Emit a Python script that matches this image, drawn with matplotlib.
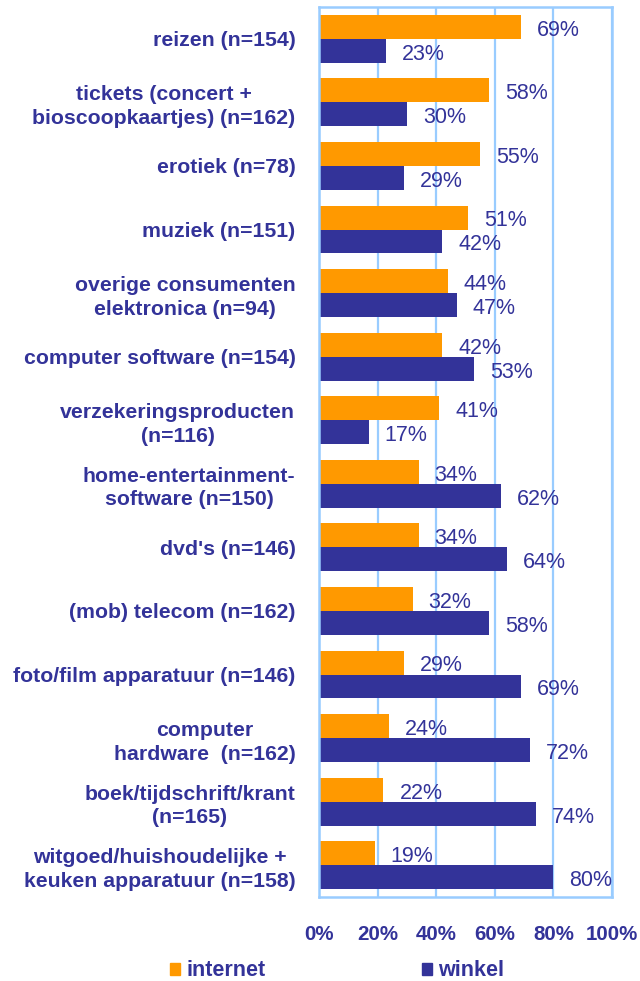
import matplotlib
matplotlib.use("Agg")
import matplotlib.pyplot as plt
from matplotlib.patches import Patch
import numpy as np

categories = [
    "reizen (n=154)",
    "tickets (concert +\nbioscoopkaartjes) (n=162)",
    "erotiek (n=78)",
    "muziek (n=151)",
    "overige consumenten\nelektronica (n=94)",
    "computer software (n=154)",
    "verzekeringsproducten\n(n=116)",
    "home-entertainment-\nsoftware (n=150)",
    "dvd's (n=146)",
    "(mob) telecom (n=162)",
    "foto/film apparatuur (n=146)",
    "computer\nhardware  (n=162)",
    "boek/tijdschrift/krant\n(n=165)",
    "witgoed/huishoudelijke +\nkeuken apparatuur (n=158)",
]
internet = [69, 58, 55, 51, 44, 42, 41, 34, 34, 32, 29, 24, 22, 19]
winkel = [23, 30, 29, 42, 47, 53, 17, 62, 64, 58, 69, 72, 74, 80]
xticks = [0, 20, 40, 60, 80, 100]
xticklabels = ["0%", "20%", "40%", "60%", "80%", "100%"]
series_names = ["internet", "winkel"]

ORANGE = "#FF9900"
BLUE = "#333399"
GRID = "#99CCFF"

plt.rcParams["font.family"] = ["Liberation Sans", "DejaVu Sans"]

fig = plt.figure(figsize=(6.4, 9.81), dpi=100)
ax = fig.add_axes([319 / 640, 1 - 897 / 981, (612 - 319) / 640, (897 - 7) / 981])

n = len(categories)
y = np.arange(n)
h = 0.377
ax.barh(y - h / 2, internet, height=h, color=ORANGE, zorder=3)
ax.barh(y + h / 2, winkel, height=h, color=BLUE, zorder=3)

for vals, off in [(internet, -h / 2), (winkel, h / 2)]:
    for yi, v in zip(y, vals):
        ax.annotate(f"{v}%", xy=(v, yi + off), xytext=(11.5, -2.5),
                    textcoords="offset points", ha="left", va="center",
                    color=BLUE, fontsize=15.5, zorder=5)

ax.set_xlim(0, 100)
ax.set_ylim(n - 0.5, -0.5)
ax.set_xticks(xticks)
ax.set_xticklabels(xticklabels, fontsize=14.8, fontweight="bold", color=BLUE)
ax.set_yticks(y)
ax.set_yticklabels(categories, fontsize=15.3, fontweight="bold", color=BLUE,
                   multialignment="center", linespacing=1.3)
ax.tick_params(axis="both", length=0)
ax.tick_params(axis="x", pad=20)
ax.tick_params(axis="y", pad=17)

ax.grid(axis="x", color=GRID, linewidth=1.6, zorder=0)
for s in ax.spines.values():
    s.set_color(GRID)
    s.set_linewidth(1.8)
    s.set_zorder(4)

for name, col, xa in [(series_names[0], ORANGE, 170), (series_names[1], BLUE, 422)]:
    leg = fig.legend(handles=[Patch(color=col)], labels=[name],
                     loc="center left", bbox_to_anchor=(xa / 640, 1 - 971 / 981),
                     frameon=False, handlelength=0.46, handleheight=0.46,
                     handletextpad=0.3, borderpad=0, borderaxespad=0,
                     prop={"size": 15.5, "weight": "bold"})
    for t in leg.get_texts():
        t.set_color(BLUE)

fig.savefig("out.png", dpi=100)
